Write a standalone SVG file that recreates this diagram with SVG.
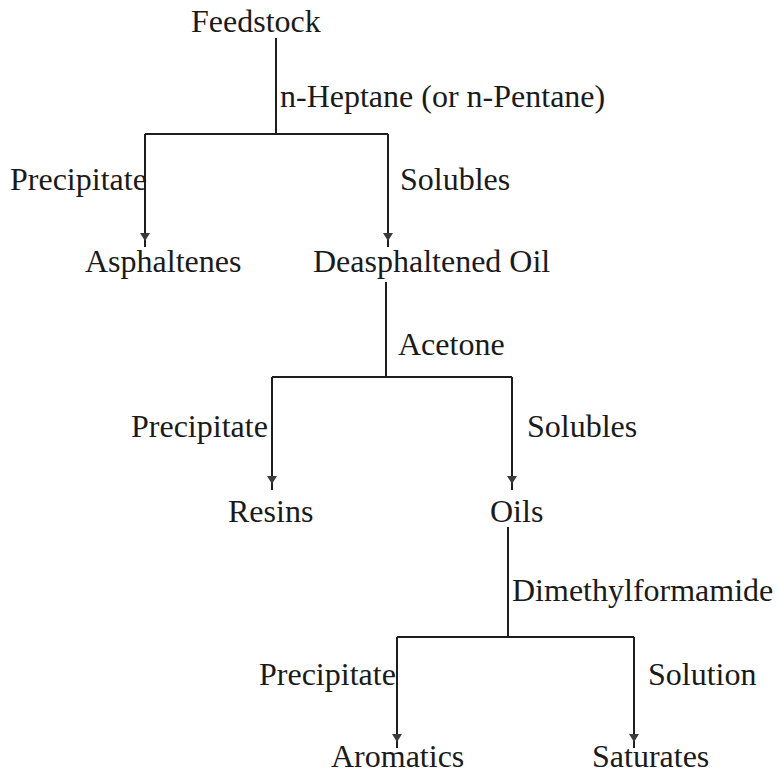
<svg xmlns="http://www.w3.org/2000/svg" width="779" height="775" viewBox="0 0 779 775">
<style>
text{font-family:"Liberation Serif","Times New Roman",serif;font-size:32px;fill:#1a1a1a}
.ln{stroke:#1e1e1e;stroke-width:2;fill:none}
.ar{marker-end:url(#ah)}
</style>
<defs>
<marker id="ah" markerUnits="userSpaceOnUse" markerWidth="20" markerHeight="12" viewBox="0 -6 20 12" refX="14" refY="0" orient="auto">
<path d="M0,-5 L8,0 L0,5 z" fill="#3a3a3a"/>
</marker>
</defs>
<rect width="779" height="775" fill="#fff"/>
<g id="connectors">
<path class="ln" d="M276,38 V134 M145,134 H388"/>
<path class="ln ar" d="M145,134 V247"/>
<path class="ln ar" d="M388,134 V247"/>
<path class="ln" d="M386,282 V377 M272,377 H512"/>
<path class="ln ar" d="M272,377 V490"/>
<path class="ln ar" d="M512,377 V490"/>
<path class="ln" d="M508,527 V637 M397,637 H634"/>
<path class="ln ar" d="M397,637 V748"/>
<path class="ln ar" d="M634,637 V748"/>
</g>
<g id="labels">
<text x="280" y="107">n-Heptane (or n-Pentane)</text>
<text x="10" y="190">Precipitate</text>
<text x="400" y="190">Solubles</text>
<text x="398" y="355">Acetone</text>
<text x="131" y="437">Precipitate</text>
<text x="527" y="437">Solubles</text>
<text x="512" y="601">Dimethylformamide</text>
<text x="259" y="685">Precipitate</text>
<text x="648" y="685">Solution</text>
</g>
<g id="feedstock"><text x="191" y="32">Feedstock</text></g>
<g id="asphaltenes"><text x="85" y="272">Asphaltenes</text></g>
<g id="deasphaltened-oil"><text x="313" y="272">Deasphaltened Oil</text></g>
<g id="resins"><text x="228" y="522">Resins</text></g>
<g id="oils"><text x="490" y="522">Oils</text></g>
<g id="aromatics"><text x="331" y="767">Aromatics</text></g>
<g id="saturates"><text x="592" y="767">Saturates</text></g>
</svg>
